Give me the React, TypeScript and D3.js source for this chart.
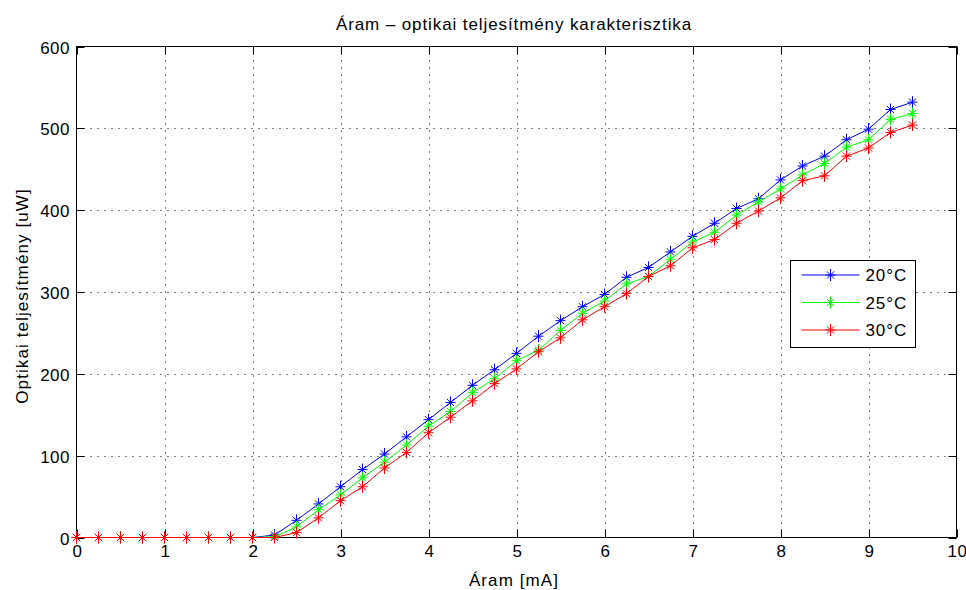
import React from 'react';
import * as d3 from 'd3';

const current = [0, 0.25, 0.5, 0.75, 1, 1.25, 1.5, 1.75, 2, 2.25, 2.5, 2.75, 3, 3.25, 3.5, 3.75, 4, 4.25, 4.5, 4.75, 5, 5.25, 5.5, 5.75, 6, 6.25, 6.5, 6.75, 7, 7.25, 7.5, 7.75, 8, 8.25, 8.5, 8.75, 9, 9.25, 9.5];
const power20 = [0, 0, 0, 0, 0, 0, 0, 0, 0, 3, 21, 41, 62, 83, 102, 123, 144, 165, 186, 205, 225, 246, 265, 282, 297, 318, 330, 349, 368, 384, 402, 414, 437, 454, 466, 486, 499, 523, 532];
const power25 = [0, 0, 0, 0, 0, 0, 0, 0, 0, 1, 13, 34, 52, 73, 92, 113, 136, 154, 177, 194, 216, 229, 253, 274, 289, 310, 319, 340, 361, 373, 394, 410, 426, 443, 457, 477, 486, 511, 518];
const power30 = [0, 0, 0, 0, 0, 0, 0, 0, 0, 0, 6, 24, 45, 62, 85, 104, 128, 147, 167, 188, 206, 227, 244, 266, 282, 298, 319, 332, 354, 364, 384, 399, 415, 436, 442, 466, 476, 495, 504];
const seriesNames = ['20°C', '25°C', '30°C'];
const seriesColors = ['#0000ff', '#00ff00', '#ff0000'];
const xTicks = [0, 1, 2, 3, 4, 5, 6, 7, 8, 9, 10];
const yTicks = [0, 100, 200, 300, 400, 500, 600];

const W = 966;
const H = 590;
const left = 76.5;
const right = 956.5;
const top = 46.5;
const bottom = 537.5;
const font = '"Liberation Sans", Arial, sans-serif';

function Star({ x, y, color }: { x: number; y: number; color: string }) {
  const a = 5;
  const b = 3.6;
  return (
    <g stroke={color} strokeWidth={1}>
      <line x1={x - a} y1={y} x2={x + a} y2={y} />
      <line x1={x} y1={y - a - 1} x2={x} y2={y + a + 1} />
      <line x1={x - b} y1={y - b} x2={x + b} y2={y + b} />
      <line x1={x - b} y1={y + b} x2={x + b} y2={y - b} />
    </g>
  );
}

export default function App() {
  const x = d3.scaleLinear().domain([0, 10]).range([left, right]);
  const y = d3.scaleLinear().domain([0, 600]).range([bottom, top]);
  const series = [power20, power25, power30];
  const line = d3
    .line<number>()
    .x((_, i) => x(current[i]))
    .y((d) => y(d));

  const legX = 790.5;
  const legY = 260.5;

  return (
    <svg width={W} height={H} style={{ position: 'absolute', left: 0, top: 0, background: '#fff' }} fontFamily={font}>
      <rect x={0} y={0} width={W} height={H} fill="#fff" />
      {/* grid */}
      {xTicks.slice(1, -1).map((t) => (
        <line key={'gx' + t} x1={Math.round(x(t)) + 0.5} x2={Math.round(x(t)) + 0.5} y1={top} y2={bottom} stroke="#000" strokeWidth={1} strokeDasharray="1,6" />
      ))}
      {yTicks.slice(1, -1).map((t) => (
        <line key={'gy' + t} x1={left} x2={right} y1={Math.round(y(t)) + 0.5} y2={Math.round(y(t)) + 0.5} stroke="#000" strokeWidth={1} strokeDasharray="1,6" />
      ))}
      {/* ticks */}
      {xTicks.map((t) => {
        const px = Math.round(x(t)) + 0.5;
        return (
          <g key={'tx' + t}>
            <line x1={px} x2={px} y1={bottom} y2={bottom - 8} stroke="#000" />
            <line x1={px} x2={px} y1={top} y2={top + 8} stroke="#000" />
            <text x={px} y={bottom + 19} textAnchor="middle" fontSize={17} letterSpacing={0.5} fill="#000">{t}</text>
          </g>
        );
      })}
      {yTicks.map((t) => {
        const py = Math.round(y(t)) + 0.5;
        return (
          <g key={'ty' + t}>
            <line x1={left} x2={left + 8} y1={py} y2={py} stroke="#000" />
            <line x1={right} x2={right - 8} y1={py} y2={py} stroke="#000" />
            <text x={left - 6.5} y={py + 6} textAnchor="end" fontSize={17} letterSpacing={0.5} fill="#000">{t}</text>
          </g>
        );
      })}
      <rect x={left} y={top} width={right - left} height={bottom - top} fill="none" stroke="#000" strokeWidth={1} />
      {/* series */}
      {series.map((s, k) => (
        <g key={'s' + k}>
          <path d={line(s) || ''} fill="none" stroke={seriesColors[k]} strokeWidth={1} />
          {s.map((v, i) => (
            <Star key={i} x={x(current[i])} y={y(v)} color={seriesColors[k]} />
          ))}
        </g>
      ))}
      {/* legend */}
      <rect x={legX} y={legY} width={125} height={87} fill="#fff" stroke="#000" strokeWidth={1} />
      {seriesNames.map((n, k) => {
        const ly = legY + 14.5 + k * 27.5;
        return (
          <g key={'l' + k}>
            <line x1={legX + 11} x2={legX + 69} y1={ly} y2={ly} stroke={seriesColors[k]} />
            <Star x={legX + 40} y={ly} color={seriesColors[k]} />
            <text x={legX + 75} y={ly + 6} fontSize={17} letterSpacing={0.9} fill="#000">{n}</text>
          </g>
        );
      })}
      {/* labels */}
      <text x={514} y={30} textAnchor="middle" fontSize={17} letterSpacing={0.9} fill="#000">Áram – optikai teljesítmény karakterisztika</text>
      <text x={514} y={586} textAnchor="middle" fontSize={17} letterSpacing={1.1} fill="#000">Áram [mA]</text>
      <text transform="translate(28, 296) rotate(-90)" textAnchor="middle" fontSize={17} letterSpacing={1.1} fill="#000">Optikai teljesítmény [uW]</text>
    </svg>
  );
}
